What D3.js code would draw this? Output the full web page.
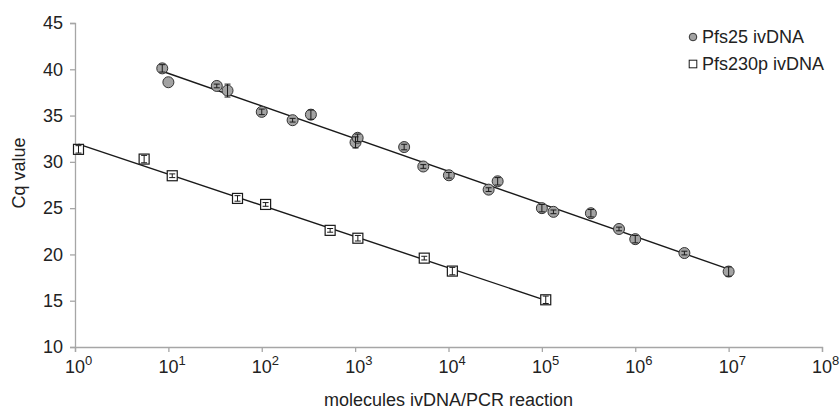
<!DOCTYPE html>
<html>
<head>
<meta charset="utf-8">
<script src="https://cdn.jsdelivr.net/npm/d3@7"></script>
<style>
  body { margin: 0; background: #fff; }
  svg { font-family: "Liberation Sans", Arial, sans-serif; }
</style>
</head>
<body>
<script>
// Pfs25 ivDNA (circles)
var pfs25X = [8.6, 10, 33, 43, 100, 214, 336, 1010, 1064, 3350, 5370, 10100, 26900, 33600, 100000, 133000, 335000, 670000, 1000000, 3360000, 10000000];
var pfs25Y = [40.1, 38.6, 38.2, 37.7, 35.4, 34.5, 35.1, 32.1, 32.6, 31.6, 29.5, 28.55, 27.0, 27.9, 25.0, 24.6, 24.45, 22.75, 21.65, 20.15, 18.15];
var pfs25Err = [0.4, 0, 0.2, 0.7, 0.3, 0.2, 0.5, 0.6, 0.4, 0.3, 0.2, 0.3, 0.2, 0.4, 0.4, 0.2, 0.4, 0.2, 0.4, 0.2, 0.5];

// Pfs230p ivDNA (squares)
var pfs230X = [1.09, 5.5, 11, 55, 110, 540, 1070, 5500, 11000, 110000];
var pfs230Y = [31.35, 30.3, 28.5, 26.05, 25.4, 22.6, 21.75, 19.6, 18.2, 15.1];
var pfs230Err = [0.4, 0.4, 0.2, 0.3, 0.2, 0.2, 0.3, 0.2, 0.4, 0.4];

var yTicks = [10, 15, 20, 25, 30, 35, 40, 45];
var xExponents = [0, 1, 2, 3, 4, 5, 6, 7, 8];
var seriesNames = ["Pfs25 ivDNA", "Pfs230p ivDNA"];

var width = 840, height = 411;
var margin = {top: 23, right: 18, bottom: 64, left: 75};

var svg = d3.select("body").append("svg")
    .attr("width", width)
    .attr("height", height);

var x = d3.scaleLog().domain([1, 1e8]).range([margin.left, width - margin.right]);
var y = d3.scaleLinear().domain([10, 45]).range([height - margin.bottom, margin.top]);

var axisColor = "#a6a6a6", textColor = "#222";

// y axis
var yAxis = svg.append("g")
    .attr("transform", "translate(" + margin.left + ",0)")
    .call(d3.axisLeft(y).tickValues(yTicks).tickSize(5).tickPadding(7));
yAxis.select(".domain").attr("stroke", axisColor).attr("stroke-width", 1.3);
yAxis.selectAll(".tick line").attr("stroke", axisColor).attr("stroke-width", 1.3);
yAxis.selectAll(".tick text")
    .attr("fill", textColor)
    .style("font-size", "18px")
    .style("font-family", "Liberation Sans, Arial, sans-serif");

// x axis
var xAxis = svg.append("g")
    .attr("transform", "translate(0," + (height - margin.bottom) + ")")
    .call(d3.axisBottom(x).tickValues(xExponents.map(function(e) { return Math.pow(10, e); })).tickSize(5).tickFormat(""));
xAxis.select(".domain").attr("stroke", axisColor).attr("stroke-width", 1.3);
xAxis.selectAll(".tick line").attr("stroke", axisColor).attr("stroke-width", 1.3);

var xl = svg.append("g").selectAll("text")
    .data(xExponents)
  .enter().append("text")
    .attr("x", function(d) { return x(Math.pow(10, d)) - 10; })
    .attr("y", height - margin.bottom + 26)
    .attr("fill", textColor)
    .style("font-size", "18px");
xl.append("tspan").text("10");
xl.append("tspan").attr("dy", -8).style("font-size", "13px").text(function(d) { return d; });

// axis titles
svg.append("text")
    .attr("x", (margin.left + width - margin.right) / 2)
    .attr("y", 406)
    .attr("text-anchor", "middle")
    .attr("fill", textColor)
    .style("font-size", "18px")
    .text("molecules ivDNA/PCR reaction");

svg.append("text")
    .attr("transform", "translate(25,173)rotate(-90)")
    .attr("text-anchor", "middle")
    .attr("fill", textColor)
    .style("font-size", "18px")
    .text("Cq value");

// least squares fit on log10(x)
function fit(xs, ys) {
  var lx = xs.map(function(v) { return Math.log10(v); });
  var mx = d3.mean(lx), my = d3.mean(ys);
  var num = d3.sum(lx, function(v, i) { return (v - mx) * (ys[i] - my); });
  var den = d3.sum(lx, function(v) { return (v - mx) * (v - mx); });
  var b = num / den, a = my - b * mx;
  var ext = d3.extent(xs);
  return ext.map(function(v) { return [v, a + b * Math.log10(v)]; });
}

var line = d3.line()
    .x(function(d) { return x(d[0]); })
    .y(function(d) { return y(d[1]); });

[[pfs25X, pfs25Y], [pfs230X, pfs230Y]].forEach(function(s) {
  svg.append("path")
      .attr("d", line(fit(s[0], s[1])))
      .attr("fill", "none")
      .attr("stroke", "#1a1a1a")
      .attr("stroke-width", 1.4);
});

// error bars + markers
function errorBars(xs, ys, es) {
  var g = svg.append("g").attr("stroke", "#1a1a1a").attr("stroke-width", 1);
  xs.forEach(function(v, i) {
    if (!es[i]) return;
    var cx = x(v), y0 = y(ys[i] - es[i]), y1 = y(ys[i] + es[i]);
    g.append("line").attr("x1", cx).attr("x2", cx).attr("y1", y0).attr("y2", y1);
    g.append("line").attr("x1", cx - 3).attr("x2", cx + 3).attr("y1", y0).attr("y2", y0);
    g.append("line").attr("x1", cx - 3).attr("x2", cx + 3).attr("y1", y1).attr("y2", y1);
  });
}

svg.append("g").selectAll("circle")
    .data(pfs25X)
  .enter().append("circle")
    .attr("cx", function(d) { return x(d); })
    .attr("cy", function(d, i) { return y(pfs25Y[i]); })
    .attr("r", 5.5)
    .attr("fill", "#a3a3a3")
    .attr("stroke", "#333")
    .attr("stroke-width", 1);
errorBars(pfs25X, pfs25Y, pfs25Err);

svg.append("g").selectAll("rect")
    .data(pfs230X)
  .enter().append("rect")
    .attr("x", function(d) { return x(d) - 5; })
    .attr("y", function(d, i) { return y(pfs230Y[i]) - 5; })
    .attr("width", 10)
    .attr("height", 10)
    .attr("fill", "#fff")
    .attr("stroke", "#1a1a1a")
    .attr("stroke-width", 1.2);
errorBars(pfs230X, pfs230Y, pfs230Err);

// legend
var legend = svg.append("g").attr("transform", "translate(693,37)");
legend.append("circle").attr("r", 3.8).attr("fill", "#a3a3a3").attr("stroke", "#333");
legend.append("rect").attr("x", -3.8).attr("y", 23.2).attr("width", 7.6).attr("height", 7.6)
    .attr("fill", "#fff").attr("stroke", "#1a1a1a");
legend.selectAll("text")
    .data(seriesNames)
  .enter().append("text")
    .attr("x", 9)
    .attr("y", function(d, i) { return 6 + i * 27; })
    .attr("fill", textColor)
    .style("font-size", "18px")
    .text(function(d) { return d; });
</script>
</body>
</html>
